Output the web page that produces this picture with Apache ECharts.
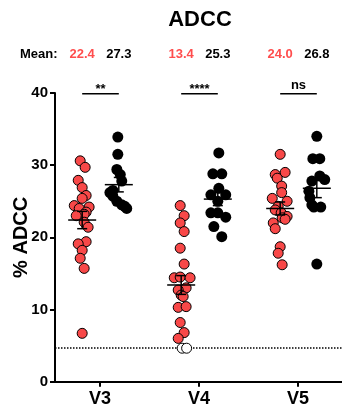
<!DOCTYPE html>
<html>
<head>
<meta charset="utf-8">
<script src="https://cdn.jsdelivr.net/npm/echarts@6/dist/echarts.min.js"></script>
<style>
  html, body { margin: 0; padding: 0; background: #fff; }
  #chart { width: 342px; height: 409px; }
</style>
</head>
<body>
<div id="chart"></div>
<script>
// Groups on the x axis
const categories = ['V3', 'V4', 'V5'];

// Group means and standard errors (red = first sample set, black = second)
const redMeans = [22.4, 13.4, 24.0];
const blackMeans = [27.3, 25.3, 26.8];
const redSem = [1.2, 1.3, 0.9];
const blackSem = [1.0, 0.9, 1.3];

// Significance marks between each pair
const sigLabels = ['**', '****', 'ns'];

// Limit of detection
const detectionLimit = 4.64;

// Individual % ADCC values, with horizontal scatter (in group widths)
const v3Red = [30.6, 29.7, 27.9, 26.9, 25.8, 25.4, 24.4, 24.2, 24.0, 23.5, 23.2, 23.0, 22.1, 21.4, 19.4, 19.1, 18.2, 17.1, 15.7, 6.7];
const v3RedSpread = [-0.02, 0.03, -0.04, 0, 0.04, 0, -0.08, 0.07, -0.03, 0.04, 0.02, -0.06, 0.02, 0.06, 0.04, -0.04, 0, -0.02, 0.02, 0];
const v3Black = [33.9, 31.5, 29.4, 28.7, 27.8, 26.5, 26.2, 25.7, 25.0, 24.5, 24.3, 24.0];
const v3BlackSpread = [-0.01, -0.01, -0.02, 0.015, 0.03, -0.06, -0.09, -0.06, -0.02, 0.03, 0.06, 0.08];

const v4Red = [24.4, 23.0, 22.0, 20.8, 18.5, 16.3, 14.4, 14.5, 14.4, 13.0, 12.7, 12.0, 11.8, 10.3, 10.4, 8.2, 6.8, 6.0];
const v4RedSpread = [-0.01, 0.03, -0.01, 0.03, -0.01, 0.03, -0.07, -0.01, 0.09, 0.05, -0.03, 0, 0.02, -0.03, 0.05, -0.01, 0.03, -0.03];
const v4Open = [4.64, 4.64];
const v4OpenSpread = [0.01, 0.055];
const v4Black = [31.7, 28.8, 28.8, 26.8, 25.9, 25.9, 25.0, 23.4, 23.4, 22.8, 21.5, 20.1];
const v4BlackSpread = [0.01, -0.05, 0.04, 0.01, -0.07, 0.08, 0, -0.07, 0, 0.08, -0.04, 0.04];

const v5Red = [31.5, 29.0, 28.7, 28.2, 27.1, 26.2, 25.4, 25.0, 24.3, 23.8, 23.4, 22.9, 22.7, 22.5, 22.0, 21.2, 18.7, 17.8, 16.2];
const v5RedSpread = [0, 0.05, -0.05, -0.03, 0.015, 0.015, -0.08, 0.07, -0.02, -0.05, 0.01, 0.07, 0.02, 0.05, -0.07, -0.05, 0, -0.02, 0.02];
const v5Black = [34.0, 30.9, 30.9, 28.5, 28.0, 27.8, 26.4, 25.5, 24.5, 24.2, 24.2, 16.3];
const v5BlackSpread = [0, -0.04, 0.03, 0.03, 0.08, -0.05, -0.08, -0.07, -0.05, -0.03, 0.04, 0];

const RED = '#f84848';
const RED_TEXT = '#ff4d4d';
const FONT = '"Liberation Sans", Arial, Helvetica, sans-serif';
const redShift = -0.18;
const blackShift = 0.19;

function points(group, values, spread, shift) {
  return values.map((v, i) => [group + 1 + shift + spread[i], v]);
}

const redPoints = [].concat(
  points(0, v3Red, v3RedSpread, redShift),
  points(1, v4Red, v4RedSpread, redShift),
  points(2, v5Red, v5RedSpread, redShift)
);
const blackPoints = [].concat(
  points(0, v3Black, v3BlackSpread, blackShift),
  points(1, v4Black, v4BlackSpread, blackShift),
  points(2, v5Black, v5BlackSpread, blackShift)
);
const openPoints = points(1, v4Open, v4OpenSpread, redShift);

// Mean line with SEM whiskers
function renderMean(params, api) {
  const x = api.value(0), m = api.value(1), s = api.value(2);
  const c = api.coord([x, m]);
  const hi = api.coord([x, m + s]);
  const lo = api.coord([x, m - s]);
  const st = { stroke: '#000', lineWidth: 1.5 };
  return {
    type: 'group',
    children: [
      { type: 'line', shape: { x1: c[0] - 14, y1: c[1], x2: c[0] + 14, y2: c[1] }, style: st },
      { type: 'line', shape: { x1: c[0], y1: hi[1], x2: c[0], y2: lo[1] }, style: st },
      { type: 'line', shape: { x1: c[0] - 5, y1: hi[1], x2: c[0] + 5, y2: hi[1] }, style: st },
      { type: 'line', shape: { x1: c[0] - 5, y1: lo[1], x2: c[0] + 5, y2: lo[1] }, style: st }
    ]
  };
}

const redMeanData = redMeans.map((m, i) => [i + 1 + redShift, m, redSem[i]]);
const blackMeanData = blackMeans.map((m, i) => [i + 1 + blackShift, m, blackSem[i]]);

// Significance bar between the two sets of each group
function renderSig(params, api) {
  const g = api.value(0);
  const y = api.value(1);
  const a = api.coord([g + redShift, y]);
  const b = api.coord([g + blackShift, y]);
  const label = sigLabels[params.dataIndex];
  const isStar = label.indexOf('*') >= 0;
  return {
    type: 'group',
    children: [
      { type: 'line', shape: { x1: a[0], y1: a[1], x2: b[0], y2: b[1] }, style: { stroke: '#000', lineWidth: 1.5 } },
      { type: 'text', style: {
          text: label, x: (a[0] + b[0]) / 2, y: a[1] - (isStar ? -2 : 2),
          align: 'center', verticalAlign: 'bottom',
          font: 'bold 13px ' + FONT, fill: '#000' } }
    ]
  };
}
const sigData = categories.map((c, i) => [i + 1, 39.9]);

// Mean values printed in a row above the plot
function renderMeanLabels(params, api) {
  const g = api.value(0);
  const r = api.coord([g + redShift, 0]);
  const k = api.coord([g + blackShift, 0]);
  const y = params.coordSys.y - 39;
  const i = params.dataIndex;
  const font = 'bold 13px ' + FONT;
  return {
    type: 'group',
    children: [
      { type: 'text', style: { text: redMeans[i].toFixed(1), x: r[0], y: y, align: 'center', verticalAlign: 'middle', font: font, fill: RED_TEXT } },
      { type: 'text', style: { text: blackMeans[i].toFixed(1), x: k[0], y: y, align: 'center', verticalAlign: 'middle', font: font, fill: '#000' } }
    ]
  };
}
const meanLabelData = categories.map((c, i) => [i + 1, 0]);

const chart = echarts.init(document.getElementById('chart'), null, { renderer: 'canvas' });
chart.setOption({
  animation: false,
  backgroundColor: '#fff',
  textStyle: { fontFamily: FONT },
  graphic: [
    { type: 'text', x: 200, y: 20, style: { text: 'ADCC', align: 'center', verticalAlign: 'middle', font: 'bold 22px ' + FONT, fill: '#000' } },
    { type: 'text', x: 20, y: 54, style: { text: 'Mean:', align: 'left', verticalAlign: 'middle', font: 'bold 13px ' + FONT, fill: '#000' } }
  ],
  grid: { left: 55, right: 0, top: 93, bottom: 27.3, containLabel: false, outerBoundsMode: 'none' },
  xAxis: {
    type: 'value',
    min: 1 - 45 / 99,
    max: 3 + 44 / 99,
    splitLine: { show: false },
    axisLine: { show: true, onZero: false, lineStyle: { color: '#000', width: 2 } },
    axisTick: { show: true, customValues: [1, 2, 3], length: 5, lineStyle: { color: '#000', width: 2 } },
    axisLabel: {
      show: true, customValues: [1, 2, 3], margin: 8,
      formatter: v => categories[Math.round(v) - 1] || '',
      color: '#000', fontSize: 18, fontWeight: 'bold', fontFamily: FONT
    }
  },
  yAxis: {
    type: 'value',
    min: 0, max: 40, interval: 10,
    name: '% ADCC',
    nameLocation: 'middle',
    nameGap: 24,
    nameMoveOverlap: false,
    nameTextStyle: { color: '#000', fontSize: 20, fontWeight: 'bold', fontFamily: FONT },
    splitLine: { show: false },
    axisLine: { show: true, lineStyle: { color: '#000', width: 2 } },
    axisTick: { show: true, length: 5, lineStyle: { color: '#000', width: 2 } },
    axisLabel: { margin: 7, color: '#000', fontSize: 15, fontWeight: 'bold', fontFamily: FONT }
  },
  series: [
    {
      type: 'scatter', data: openPoints, symbol: 'circle', symbolSize: 10,
      itemStyle: { color: '#fff', borderColor: '#000', borderWidth: 1, opacity: 1 },
      z: 3,
      markLine: {
        silent: true, symbol: 'none', label: { show: false },
        lineStyle: { color: '#000', width: 1.5, type: [1.5, 1.5] },
        data: [{ yAxis: detectionLimit }],
        z: 2
      }
    },
    {
      type: 'scatter', data: redPoints, symbol: 'circle', symbolSize: 10,
      itemStyle: { color: RED, borderColor: '#000', borderWidth: 1, opacity: 1 },
      z: 4
    },
    {
      type: 'scatter', data: blackPoints, symbol: 'circle', symbolSize: 11,
      itemStyle: { color: '#000', opacity: 1 },
      z: 4
    },
    { type: 'custom', renderItem: renderMean, data: redMeanData, z: 6, clip: false },
    { type: 'custom', renderItem: renderMean, data: blackMeanData, z: 6, clip: false },
    { type: 'custom', renderItem: renderSig, data: sigData, z: 6, clip: false },
    { type: 'custom', renderItem: renderMeanLabels, data: meanLabelData, z: 6, clip: false }
  ]
});
</script>
</body>
</html>
